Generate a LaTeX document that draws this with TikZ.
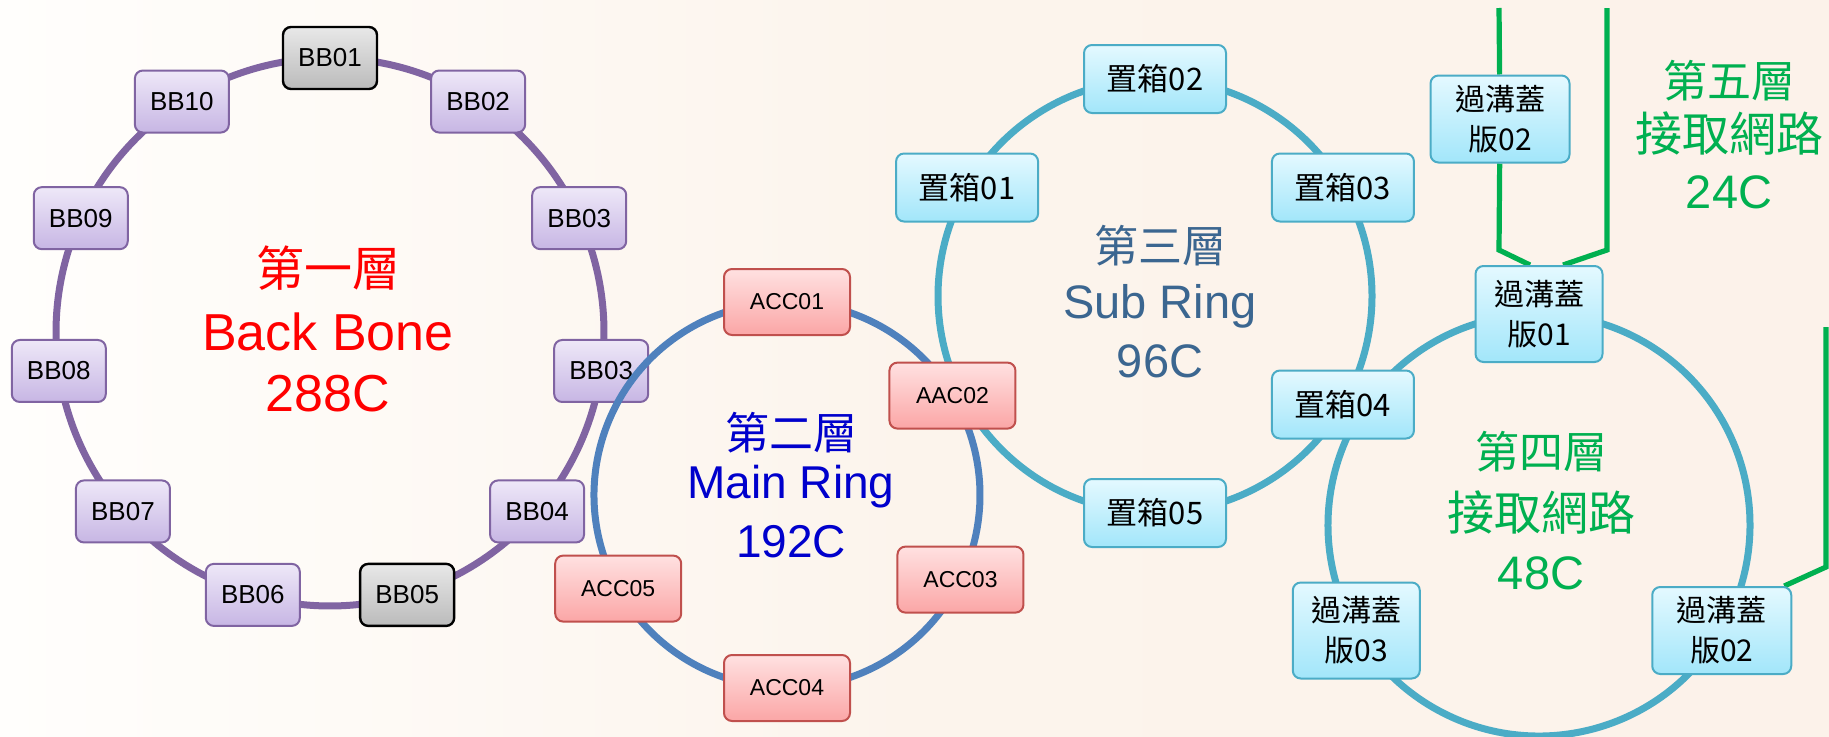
\documentclass[tikz,border=0pt]{standalone}
\usepackage{fontspec}
\setsansfont{Liberation Sans}
\newfontfamily\cjk{Noto Sans CJK TC}
\usepackage{tikz}
\definecolor{bbline}{HTML}{8064A2}
\definecolor{bbtop}{HTML}{EEE8F8}
\definecolor{bbbot}{HTML}{C7B6E4}
\definecolor{greytop}{HTML}{E8E8E8}
\definecolor{greybot}{HTML}{BBBBBB}
\definecolor{accline}{HTML}{C0504D}
\definecolor{acctop}{HTML}{FFE1E1}
\definecolor{accbot}{HTML}{FBA6A6}
\definecolor{mainline}{HTML}{4F81BD}
\definecolor{subline}{HTML}{4BACC6}
\definecolor{subtop}{HTML}{E4F9FF}
\definecolor{subbot}{HTML}{A2E6FA}
\definecolor{layerred}{HTML}{FF0000}
\definecolor{layerblue}{HTML}{0000CC}
\definecolor{layersub}{HTML}{3B6690}
\definecolor{layergreen}{HTML}{00B050}
\definecolor{bgleft}{HTML}{FFFEFC}
\definecolor{bgmid}{HTML}{FCF4EC}
\definecolor{bgright}{HTML}{FCF2EA}
\pgfdeclarelayer{ringback}
\pgfdeclarelayer{ringfront}
\pgfdeclarelayer{nodefront}
\pgfsetlayers{ringback,main,ringfront,nodefront}

\begin{document}
\begin{tikzpicture}[
    x=0.5pt, y=0.5pt,
    every node/.style={inner sep=0pt},
    ringnode/.style={rectangle, rounded corners=4pt, line width=1pt, align=center},
    bbnode/.style={ringnode, draw=bbline, top color=bbtop, bottom color=bbbot,
                   minimum width=47pt, minimum height=31pt,
                   font=\sffamily\fontsize{13}{15}\selectfont},
    bbgrey/.style={bbnode, draw=black, line width=1.2pt,
                   top color=greytop, bottom color=greybot},
    accnode/.style={ringnode, draw=accline, top color=acctop, bottom color=accbot,
                    minimum width=63pt, minimum height=33pt,
                    font=\sffamily\fontsize{11.5}{13}\selectfont},
    boxnode/.style={ringnode, draw=subline, top color=subtop, bottom color=subbot,
                    minimum width=71pt, minimum height=34pt,
                    font=\cjk\fontsize{15.5}{18}\selectfont},
    covernode/.style={boxnode, minimum width=63.5pt, minimum height=48pt,
                      font=\cjk\fontsize{15}{20}\selectfont},
    widecover/.style={covernode, minimum width=69.5pt, minimum height=43.5pt},
    ringarc/.style={line width=3.5pt},
    greenline/.style={draw=layergreen, line width=2.6pt},
    cjktitle/.style={anchor=base, font=\cjk\fontsize{22}{22}\selectfont},
    latintitle/.style={anchor=base, font=\sffamily\fontsize{23.5}{23.5}\selectfont}
]
\useasboundingbox (0,0) rectangle (1829,736);
\begin{pgfonlayer}{ringback}
\shade[left color=bgleft, right color=bgright, middle color=bgmid] (0,0) rectangle (1829,736);
\end{pgfonlayer}

% Ring centres
\coordinate (c1) at (330,404);
\coordinate (c2) at (787,241);
\coordinate (c3) at (1155,440);
\coordinate (c4) at (1539,211);

% Back Bone
\node[bbgrey] (bb01) at ([shift={(90:274)}]c1) {BB01};
\node[bbnode] (bb02) at ([shift={(57.27:274)}]c1) {BB02};
\node[bbnode] (bb03) at ([shift={(24.55:274)}]c1) {BB03};
\node[bbnode] (bb03b) at ([shift={(-8.18:274)}]c1) {BB03};
\node[bbnode] (bb04) at ([shift={(-40.91:274)}]c1) {BB04};
\node[bbgrey] (bb05) at ([shift={(-73.64:274)}]c1) {BB05};
\node[bbnode] (bb06) at ([shift={(-106.36:274)}]c1) {BB06};
\node[bbnode] (bb07) at ([shift={(-139.09:274)}]c1) {BB07};
\node[bbnode] (bb08) at ([shift={(-171.82:274)}]c1) {BB08};
\node[bbnode] (bb09) at ([shift={(155.45:274)}]c1) {BB09};
\node[bbnode] (bb10) at ([shift={(122.73:274)}]c1) {BB10};

\begin{pgfonlayer}{nodefront}
% Main Ring
\node[accnode] (acc01) at ([shift={(90:193)}]c2) {ACC01};
\node[accnode] (aac02) at ([shift={(31:193)}]c2) {AAC02};
\node[accnode] (acc03) at ([shift={(-26:193)}]c2) {ACC03};
\node[accnode] (acc04) at ([shift={(-90:193)}]c2) {ACC04};
\node[accnode] (acc05) at ([shift={(-151:193)}]c2) {ACC05};

% Sub Ring
\node[boxnode] (box01) at ([shift={(150:217)}]c3) {置箱01};
\node[boxnode] (box02) at ([shift={(90:217)}]c3) {置箱02};
\node[boxnode] (box03) at ([shift={(30:217)}]c3) {置箱03};
\node[boxnode] (box04) at ([shift={(-30:217)}]c3) {置箱04};
\node[boxnode] (box05) at ([shift={(-90:217)}]c3) {置箱05};

% Access rings
\node[covernode] (cover01) at ([shift={(90:211)}]c4) {過溝蓋\\版01};
\node[widecover] (cover02) at ([shift={(-30:211)}]c4) {過溝蓋\\版02};
\node[covernode] (cover03) at ([shift={(-150:211)}]c4) {過溝蓋\\版03};
\node[widecover] (cover02top) at (1500,617) {過溝蓋\\版02};
\end{pgfonlayer}

% Ring lines
\begin{pgfonlayer}{ringback}
\draw[ringarc, draw=bbline] (bb01.center) arc[start angle=90, delta angle=-32.73, radius=274];
\draw[ringarc, draw=bbline] (bb02.center) arc[start angle=57.27, delta angle=-32.73, radius=274];
\draw[ringarc, draw=bbline] (bb03.center) arc[start angle=24.55, delta angle=-32.73, radius=274];
\draw[ringarc, draw=bbline] (bb03b.center) arc[start angle=-8.18, delta angle=-32.73, radius=274];
\draw[ringarc, draw=bbline] (bb04.center) arc[start angle=-40.91, delta angle=-32.73, radius=274];
\draw[ringarc, draw=bbline] (bb05.center) arc[start angle=-73.64, delta angle=-32.73, radius=274];
\draw[ringarc, draw=bbline] (bb06.center) arc[start angle=-106.36, delta angle=-32.73, radius=274];
\draw[ringarc, draw=bbline] (bb07.center) arc[start angle=-139.09, delta angle=-32.73, radius=274];
\draw[ringarc, draw=bbline] (bb08.center) arc[start angle=-171.82, delta angle=-32.73, radius=274];
\draw[ringarc, draw=bbline] (bb09.center) arc[start angle=155.45, delta angle=-32.73, radius=274];
\draw[ringarc, draw=bbline] (bb10.center) arc[start angle=122.73, delta angle=-32.73, radius=274];
\end{pgfonlayer}

\begin{pgfonlayer}{ringfront}
\draw[ringarc, draw=mainline] (acc01.center) arc[start angle=90, end angle=31, radius=193];
\draw[ringarc, draw=mainline] (aac02.center) arc[start angle=31, end angle=-26, radius=193];
\draw[ringarc, draw=mainline] (acc03.center) arc[start angle=-26, end angle=-90, radius=193];
\draw[ringarc, draw=mainline] (acc04.center) arc[start angle=-90, end angle=-151, radius=193];
\draw[ringarc, draw=mainline] (acc05.center) arc[start angle=-151, end angle=-270, radius=193];

\draw[ringarc, draw=subline] (box02.center) arc[start angle=90, end angle=30, radius=217];
\draw[ringarc, draw=subline] (box03.center) arc[start angle=30, end angle=-30, radius=217];
\draw[ringarc, draw=subline] (box04.center) arc[start angle=-30, end angle=-90, radius=217];
\draw[ringarc, draw=subline] (box05.center) arc[start angle=-90, end angle=-210, radius=217];
\draw[ringarc, draw=subline] (box01.center) arc[start angle=150, end angle=90, radius=217];

\draw[ringarc, draw=subline] (cover01.center) arc[start angle=90, end angle=-30, radius=211];
\draw[ringarc, draw=subline] (cover02.center) arc[start angle=-30, end angle=-150, radius=211];
\draw[ringarc, draw=subline] (cover03.center) arc[start angle=-150, end angle=-270, radius=211];

% Layer 5 lines
\coordinate (g1top) at (1499,728);
\coordinate (g1bend) at (1499,486);
\coordinate (g2top) at (1607,728);
\coordinate (g2bend) at (1607,486);
\coordinate (g3top) at (1826,409);
\coordinate (g3bend) at (1826,169);
\draw[greenline] (g1top) -- (cover02top);
\draw[greenline] (cover02top) -- (g1bend) -- ([xshift=-4.5pt]cover01.north);
\draw[greenline] (g2top) -- (g2bend) -- ([xshift=12pt]cover01.north);
\draw[greenline] (g3top) -- (g3bend) -- ([xshift=-4pt]cover02.north east);
\end{pgfonlayer}

% Labels
\node[cjktitle, text=layerred, font=\cjk\fontsize{24}{24}\selectfont] (name1) at (328,450) {第一層};
\node[latintitle, text=layerred, font=\sffamily\fontsize{26}{26}\selectfont] (ring1) at (328,386) {Back Bone};
\node[latintitle, text=layerred, font=\sffamily\fontsize{26}{26}\selectfont] (core1) at (328,325) {288C};

\node[cjktitle, text=layerblue] (name2) at (791,287) {第二層};
\node[latintitle, text=layerblue, font=\sffamily\fontsize{23}{23}\selectfont] (ring2) at (791,238) {Main Ring};
\node[latintitle, text=layerblue, font=\sffamily\fontsize{23}{23}\selectfont] (core2) at (791,179) {192C};

\node[cjktitle, text=layersub] (name3) at (1160,474) {第三層};
\node[latintitle, text=layersub] (ring3) at (1160,418) {Sub Ring};
\node[latintitle, text=layersub] (core3) at (1160,359) {96C};

\node[cjktitle, text=layergreen] (name4) at (1541,268) {第四層};
\node[cjktitle, text=layergreen, font=\cjk\fontsize{23.5}{23.5}\selectfont] (ring4) at (1541,206) {接取網路};
\node[latintitle, text=layergreen] (core4) at (1541,147) {48C};

\node[cjktitle, text=layergreen] (name5) at (1729,639) {第五層};
\node[cjktitle, text=layergreen, font=\cjk\fontsize{23.5}{23.5}\selectfont] (ring5) at (1729,585) {接取網路};
\node[latintitle, text=layergreen] (core5) at (1729,528) {24C};

\end{tikzpicture}
\end{document}
